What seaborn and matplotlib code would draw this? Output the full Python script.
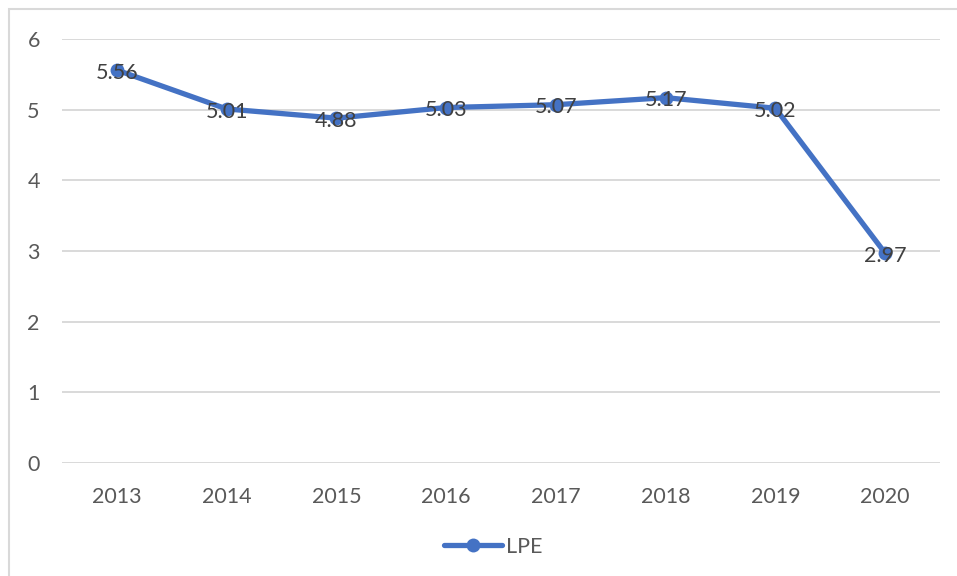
import pandas as pd
import seaborn as sns
import matplotlib.pyplot as plt
from matplotlib.patches import Rectangle

# Dados do gráfico
anos = ['2013', '2014', '2015', '2016', '2017', '2018', '2019', '2020']
lpe = [5.56, 5.01, 4.88, 5.03, 5.07, 5.17, 5.02, 2.97]

df = pd.DataFrame({'Ano': anos, 'LPE': lpe})

sns.set_theme(style="white")
plt.rcParams['font.family'] = ['Lato', 'DejaVu Sans']

azul = '#4472C4'
cinza_txt = '#595959'

fig = plt.figure(figsize=(9.57, 5.76), dpi=100)
ax = fig.add_axes([62 / 957, 1 - 463 / 576, (940 - 62) / 957, (463 - 39) / 576])

sns.lineplot(data=df, x='Ano', y='LPE', ax=ax, color=azul, linewidth=3.8,
             marker='o', markersize=10, markeredgewidth=0, label='LPE',
             sort=False)

# rótulos de dados centrados nos pontos (ligeiramente abaixo, como no Excel)
for i, v in enumerate(lpe):
    ax.annotate(f"{v:.2f}", (i, v), xytext=(0, -2), textcoords='offset points',
                ha='center', va='center', fontsize=15.5, color='#404040')

ax.set_ylim(0, 6)
ax.set_xlim(-0.5, len(anos) - 0.5)
ax.set_yticks(range(0, 7))
ax.yaxis.grid(True, color='#D9D9D9', linewidth=1.4)
ax.set_axisbelow(True)
for s in ax.spines.values():
    s.set_visible(False)
ax.tick_params(axis='both', length=0, labelsize=15.5, labelcolor=cinza_txt)
ax.tick_params(axis='y', pad=16)
ax.tick_params(axis='x', pad=17)
ax.set_xlabel('')
ax.set_ylabel('')

leg = ax.legend(loc='center', bbox_to_anchor=(493 / 957, 1 - 547 / 576),
                bbox_transform=fig.transFigure, frameon=False,
                fontsize=15.5, handlelength=2.7, handletextpad=0.2)
for t in leg.get_texts():
    t.set_color(cinza_txt)

# moldura do gráfico (estilo Excel)
fig.patches.append(Rectangle((9 / 957, -0.1), 1.2, 1.1 - 9 / 576,
                             transform=fig.transFigure, fill=False,
                             edgecolor='#D9D9D9', linewidth=1.5))

fig.savefig('out.png', dpi=100)
